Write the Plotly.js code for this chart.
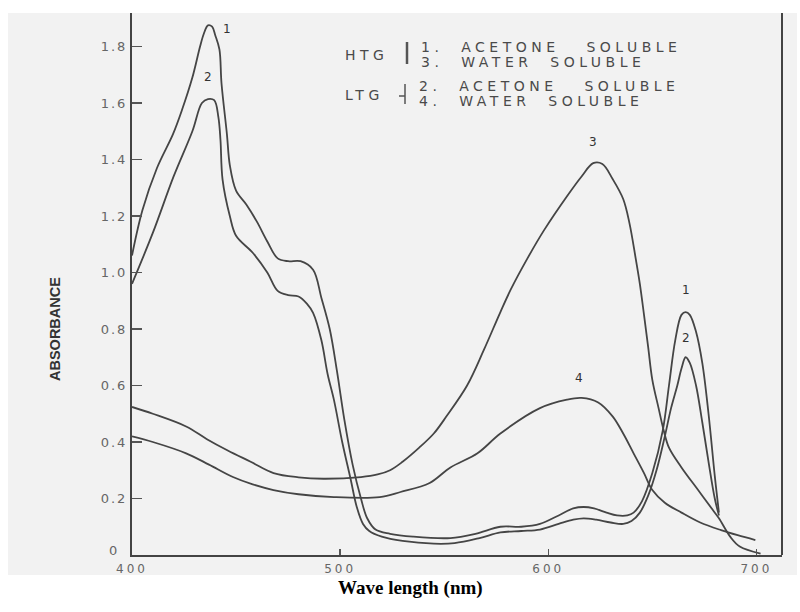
<!DOCTYPE html>
<html>
<head>
<meta charset="utf-8">
<script src="https://cdn.plot.ly/plotly-3.0.1.min.js"></script>
<style>
  html, body { margin: 0; padding: 0; background: #ffffff; }
  #chart { width: 800px; height: 612px; }
  .xtick text { letter-spacing: 3px; }
  .ytick text { letter-spacing: 2px; }
</style>
</head>
<body>
<div id="chart"></div>
<script>
// Curve 1: HTG acetone soluble
const wl1 = [400,405,412,419.7,424,429,432.7,434.5,436.5,438.5,440,442,443,445.6,447,450,455,460,465,470,475,481,487,491,495,498.5,502,506,510,513,517,524,535,553,565,577,587,596,605,612,617,622,628,633,638,641,645,650,655,658,661,664,666,668,671,674,677,680,682];
const abs1 = [1.06,1.22,1.37,1.49,1.575,1.69,1.80,1.845,1.875,1.87,1.84,1.79,1.67,1.49,1.38,1.29,1.24,1.18,1.11,1.05,1.04,1.04,1.01,0.91,0.80,0.65,0.48,0.32,0.20,0.13,0.09,0.075,0.065,0.06,0.075,0.10,0.10,0.11,0.14,0.165,0.17,0.165,0.15,0.14,0.14,0.15,0.19,0.29,0.44,0.60,0.76,0.85,0.86,0.85,0.79,0.68,0.50,0.28,0.15];

// Curve 2: LTG acetone soluble
const wl2 = [400,410,420,429,433.6,436.5,439.5,441.5,442.5,443.5,447,450,458,465,470,475,480,484,487,491,494,497,501,505,508,511,514,520,530,545,555,567,577,587,596,605,612,617,623,630,636,640,644,648,652,656,659,662,664,666,668,671,674,677,680,682];
const abs2 = [0.96,1.14,1.34,1.50,1.60,1.614,1.61,1.55,1.47,1.33,1.20,1.13,1.07,1.00,0.935,0.92,0.915,0.89,0.857,0.76,0.64,0.55,0.40,0.27,0.17,0.11,0.085,0.065,0.05,0.04,0.042,0.06,0.08,0.085,0.09,0.11,0.125,0.13,0.125,0.115,0.11,0.12,0.15,0.21,0.30,0.42,0.52,0.60,0.66,0.70,0.68,0.60,0.47,0.33,0.20,0.14];

// Curve 3: HTG water soluble
const wl3 = [400,410,426,436,446,457,468,480,492,510,518,524,530,538,545,551,561,569,577,582,590,598,609,616,621.6,626,631,636,639,642,644,646,648,650,653,655.5,658,664,672,679,682,687.5,692,702];
const abs3 = [0.524,0.50,0.455,0.41,0.37,0.33,0.29,0.275,0.27,0.276,0.285,0.30,0.33,0.38,0.43,0.49,0.60,0.725,0.86,0.94,1.05,1.15,1.27,1.34,1.387,1.384,1.33,1.26,1.175,1.05,0.96,0.85,0.736,0.62,0.52,0.44,0.38,0.31,0.23,0.16,0.13,0.064,0.03,0.005];

// Curve 4: LTG water soluble
const wl4 = [400,410,426,437,448.5,458,468,480,497,519,529,543,553,566,577,596,609,616,624,631,636,641,646,650,656,664,673,683,691,699.5];
const abs4 = [0.42,0.40,0.36,0.32,0.276,0.25,0.23,0.215,0.205,0.205,0.223,0.255,0.31,0.36,0.43,0.52,0.55,0.556,0.54,0.49,0.43,0.36,0.29,0.23,0.185,0.15,0.115,0.088,0.07,0.053];

const yTickVals = [0,0.2,0.4,0.6,0.8,1.0,1.2,1.4,1.6,1.8];
const yTickText = ["0","0.2","0.4","0.6","0.8","1.0","1.2","1.4","1.6","1.8"];
const xTickVals = [400,500,600,700];
const xTickText = ["400","500","600","700"];

const lineStyle = {color:'#454545', width:1.8, shape:'spline', smoothing:1};
const mk = (x,y) => ({x:x, y:y, type:'scatter', mode:'lines', line:lineStyle, hoverinfo:'skip', showlegend:false, cliponaxis:false});
const traces = [mk(wl1,abs1), mk(wl2,abs2), mk(wl3,abs3), mk(wl4,abs4)];

const stencil = {family:'DejaVu Sans', size:14, color:'#4a4a4a'};
const nb = '\u00a0';
const legendItems = [
  {t:'HTG', x:343, y:55},
  {t:'1.'+nb+nb+'ACETONE'+nb+nb+nb+'SOLUBLE', x:419, y:47},
  {t:'3.'+nb+nb+'WATER'+nb+nb+'SOLUBLE', x:419, y:62},
  {t:'LTG', x:343, y:95},
  {t:'2.'+nb+nb+'ACETONE'+nb+nb+nb+'SOLUBLE', x:417, y:86},
  {t:'4.'+nb+nb+'WATER'+nb+nb+'SOLUBLE', x:417, y:101}
];
const L = 132, R = 782, T = 13, B = 555;
const px = v => (v - L) / (R - L);
const py = v => (B - v) / (B - T);

const annotations = legendItems.map(it => ({
  text: it.t, xref:'paper', yref:'paper', x: px(it.x), y: py(it.y),
  xanchor:'left', yanchor:'middle', showarrow:false, align:'left', font: stencil
}));
const nSpaced = annotations.length;

const curveLabels = [
  {t:'1', x:445.5, y:1.83},
  {t:'2', x:436.5, y:1.66},
  {t:'3', x:621.5, y:1.43},
  {t:'4', x:615, y:0.595},
  {t:'1', x:666, y:0.905},
  {t:'2', x:666, y:0.735}
];
curveLabels.forEach(c => annotations.push({
  text:c.t, x:c.x, y:c.y, xref:'x', yref:'y', showarrow:false,
  xanchor:'center', yanchor:'bottom', font:{family:'DejaVu Sans', size:12, color:'#333333'}
}));

annotations.push({
  text:'ABSORBANCE', xref:'paper', yref:'paper', x:px(55), y:py(329),
  textangle:-90, showarrow:false, xanchor:'center', yanchor:'middle',
  font:{family:'Liberation Sans Narrow, Arial Narrow, sans-serif', size:14.5, color:'#333', weight:'bold'}
});
annotations.push({
  text:'Wave length (nm)', xref:'paper', yref:'paper', x:px(410), y:py(588),
  showarrow:false, xanchor:'center', yanchor:'middle',
  font:{family:'Liberation Serif, Times New Roman, serif', size:19, color:'#000', weight:'bold'}
});

const shapes = [
  {type:'rect', xref:'paper', yref:'paper', x0:px(8), x1:px(797), y0:py(575), y1:1,
   fillcolor:'#f2f2f2', line:{width:0}, layer:'below'},
  {type:'line', xref:'paper', yref:'paper', x0:1, x1:1, y0:0, y1:1,
   line:{color:'#444', width:2}},
  {type:'line', xref:'paper', yref:'paper', x0:px(407), x1:px(407), y0:py(64), y1:py(42),
   line:{color:'#555', width:2.5}},
  {type:'line', xref:'paper', yref:'paper', x0:px(405), x1:px(405), y0:py(104), y1:py(84),
   line:{color:'#555', width:1.5}},
  {type:'line', xref:'paper', yref:'paper', x0:px(399), x1:px(405), y0:py(96), y1:py(96),
   line:{color:'#555', width:1.5}}
];

const layout = {
  width:800, height:612,
  margin:{l:L, r:800-R, t:T, b:612-B},
  paper_bgcolor:'#ffffff', plot_bgcolor:'rgba(0,0,0,0)',
  showlegend:false,
  xaxis:{
    range:[400, 712.3], tickvals:xTickVals, ticktext:xTickText,
    ticks:'inside', ticklen:6, tickwidth:1.5, tickcolor:'#555',
    showline:true, linecolor:'#444', linewidth:2, showgrid:false, zeroline:false,
    ticklabelstandoff:2,
    tickfont:{family:'DejaVu Sans', size:12, color:'#666'}
  },
  yaxis:{
    range:[0, 1.9186], tickvals:yTickVals, ticktext:yTickText,
    ticks:'inside', ticklen:10, tickwidth:1.5, tickcolor:'#555',
    showline:true, linecolor:'#444', linewidth:2, showgrid:false, zeroline:false,
    tickfont:{family:'DejaVu Sans', size:13, color:'#666'}
  },
  annotations:annotations,
  shapes:shapes
};

Plotly.newPlot('chart', traces, layout, {displayModeBar:false, staticPlot:true}).then(() => {
  document.querySelectorAll('#chart g.annotation').forEach(g => {
    const i = +g.getAttribute('data-index');
    if (i < nSpaced) {
      const t = g.querySelector('text');
      if (t) t.style.letterSpacing = '4.5px';
    }
  });
  // lift the "0" y tick label slightly so it sits above the "400" x label, as in the reference
  document.querySelectorAll('#chart .ytick text').forEach(t => {
    if (t.textContent === '0') {
      const yy = parseFloat(t.getAttribute('y') || '0');
      t.setAttribute('y', String(yy - 5));
      t.setAttribute('x', String(parseFloat(t.getAttribute('x') || '0') - 8));
    }
  });
});
</script>
</body>
</html>
